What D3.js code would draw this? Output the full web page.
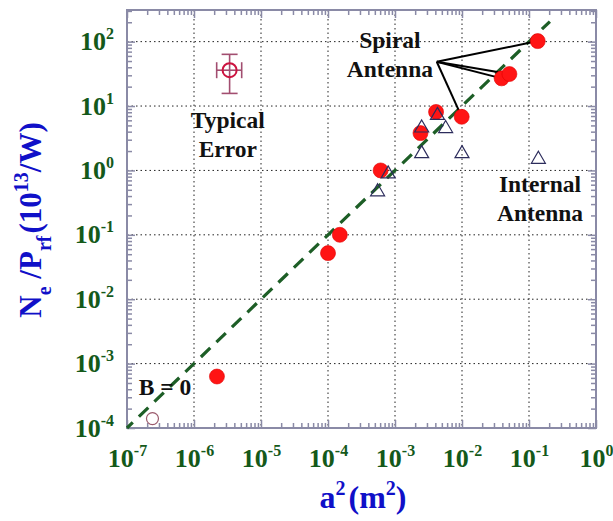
<!DOCTYPE html>
<html>
<head>
<meta charset="utf-8">
<script src="https://cdn.jsdelivr.net/npm/d3@7"></script>
<style>
  body { margin: 0; background: #fff; }
  text { font-family: "Liberation Serif", "Times New Roman", serif; font-weight: bold; }
</style>
</head>
<body>
<div id="chart"></div>
<script>
// DATA
const spiralA2 = [2.2e-6, 1.0e-4, 1.5e-4, 6.1e-4, 2.4e-3, 4.1e-3, 9.9e-3, 0.039, 0.051, 0.135];
const spiralNP = [6.3e-4, 0.052, 0.10, 1.0, 3.8, 8.1, 6.8, 26.9, 31.4, 102];

const internalA2 = [5.5e-4, 7.9e-4, 2.5e-3, 2.5e-3, 4.3e-3, 5.7e-3, 1.0e-2, 0.138];
const internalNP = [0.50, 0.95, 1.96, 4.9, 7.7, 4.8, 1.96, 1.6];

const noFieldA2 = [2.4e-7];
const noFieldNP = [1.4e-4];

// fit line N/P = 1e3 * a^2
const fitA2 = [1e-7, 0.205];
const fitNP = [1e-4, 205];

// typical error marker
const errCenter = [3.4e-6, 36];
const errA2 = [2.18e-6, 5.15e-6];
const errNP = [15.7, 63.5];

// annotation arrows: origin and which spiral points they point to
const spiralOrigin = [4.2e-3, 48.7];
const spiralTargets = [9, 8, 7, 6];

const xDomain = [1e-7, 1];
const yDomain = [1e-4, 310];

// LAYOUT
const W = 613, H = 521;
const margin = { top: 10, right: 17, bottom: 93, left: 127 };
const xMax = W - margin.left - margin.right;
const yMax = H - margin.top - margin.bottom;

const green = "#14591a";
const blue = "#1010c8";
const frameCol = "#8a8aa6";

const svg = d3.select("#chart").append("svg")
  .attr("width", W).attr("height", H);
const g = svg.append("g")
  .attr("transform", "translate(" + margin.left + "," + margin.top + ")");

const x = d3.scaleLog().domain(xDomain).range([0, xMax]);
const y = d3.scaleLog().domain(yDomain).range([yMax, 0]);

const isMajor = (v) => Math.abs(Math.log10(v) - Math.round(Math.log10(v))) < 1e-9;
const xAll = x.ticks();
const yAll = y.ticks();
const xMaj = xAll.filter(isMajor);
const yMaj = yAll.filter(isMajor);
const xMin = xAll.filter((v) => !isMajor(v));
const yMin = yAll.filter((v) => !isMajor(v));

// GRID
const grid = g.append("g").attr("class", "grid")
  .attr("stroke", "#222").attr("stroke-width", 1).attr("stroke-dasharray", "1.5,3");
grid.selectAll("line.v").data(xMaj.filter((v) => v > xDomain[0] && v < xDomain[1]))
  .join("line").attr("class", "v")
  .attr("x1", (d) => x(d)).attr("x2", (d) => x(d))
  .attr("y1", 0).attr("y2", yMax);
grid.selectAll("line.h").data(yMaj.filter((v) => v > yDomain[0]))
  .join("line").attr("class", "h")
  .attr("y1", (d) => y(d)).attr("y2", (d) => y(d))
  .attr("x1", 0).attr("x2", xMax);

// AXES (ticks pointing inward on all four sides)
function styleAxis(sel) {
  sel.select(".domain").remove();
  sel.selectAll(".tick line").attr("stroke", frameCol).attr("stroke-width", 1.5);
}
function addAxis(axis, tx, ty) {
  return g.append("g").attr("transform", "translate(" + tx + "," + ty + ")")
    .call(axis).call(styleAxis);
}
addAxis(d3.axisBottom(x).tickValues(xMin).tickSize(-5).tickFormat(""), 0, yMax);
addAxis(d3.axisTop(x).tickValues(xMin).tickSize(-5).tickFormat(""), 0, 0);
addAxis(d3.axisLeft(y).tickValues(yMin).tickSize(-5).tickFormat(""), 0, 0);
addAxis(d3.axisRight(y).tickValues(yMin).tickSize(-5).tickFormat(""), xMax, 0);
addAxis(d3.axisTop(x).tickValues(xMaj).tickSize(-8).tickFormat(""), 0, 0);
addAxis(d3.axisRight(y).tickValues(yMaj).tickSize(-8).tickFormat(""), xMax, 0);

function powerLabel(text) {
  text.each(function (d) {
    const t = d3.select(this);
    const e = Math.round(Math.log10(d));
    t.text(null).attr("fill", green).style("font-size", "26px");
    t.append("tspan").text("10");
    t.append("tspan").attr("dy", -11).style("font-size", "16px").text(String(e));
  });
}

const xAxisG = addAxis(d3.axisBottom(x).tickValues(xMaj).tickSize(-8), 0, yMax);
xAxisG.selectAll(".tick text")
  .attr("y", 39).attr("dy", 0).attr("text-anchor", "middle")
  .call(powerLabel);

const yAxisG = addAxis(d3.axisLeft(y).tickValues(yMaj).tickSize(-8), 0, 0);
yAxisG.selectAll(".tick text")
  .attr("x", -13).attr("dy", 8).attr("text-anchor", "end")
  .call(powerLabel);

// frame
g.append("rect").attr("width", xMax).attr("height", yMax)
  .attr("fill", "none").attr("stroke", frameCol).attr("stroke-width", 2);

// FIT LINE
const line = d3.line().x((d) => x(d[0])).y((d) => y(d[1]));
g.append("path")
  .datum(d3.zip(fitA2, fitNP))
  .attr("d", line)
  .attr("fill", "none").attr("stroke", "#1d5e26")
  .attr("stroke-width", 3.2).attr("stroke-dasharray", "13,8.5")
  .attr("stroke-dashoffset", 5);

// ANNOTATION LINES (spiral antenna)
const ox = x(spiralOrigin[0]), oy = y(spiralOrigin[1]);
function towards(i, k) {
  const tx = x(spiralA2[i]), ty = y(spiralNP[i]);
  const L = Math.hypot(tx - ox, ty - oy);
  return [tx - (tx - ox) * k / L, ty - (ty - oy) * k / L];
}
g.append("g").selectAll("line").data(spiralTargets).join("line")
  .attr("x1", ox).attr("y1", oy)
  .attr("x2", (i) => towards(i, 6)[0])
  .attr("y2", (i) => towards(i, 6)[1])
  .attr("stroke", "#000").attr("stroke-width", 2);

// SPIRAL ANTENNA POINTS
g.append("g").selectAll("circle").data(d3.zip(spiralA2, spiralNP)).join("circle")
  .attr("cx", (d) => x(d[0])).attr("cy", (d) => y(d[1]))
  .attr("r", 7.5)
  .attr("fill", "#ff1414").attr("stroke", "#e00000").attr("stroke-width", 0.6);

// INTERNAL ANTENNA POINTS
g.append("g").selectAll("path").data(d3.zip(internalA2, internalNP)).join("path")
  .attr("transform", (d) => "translate(" + x(d[0]) + "," + y(d[1]) + ")")
  .attr("d", "M0,-6L7,6L-7,6Z")
  .attr("fill", "none").attr("stroke", "#2c2c5c").attr("stroke-width", 1.2);

// B = 0 POINT
g.append("g").selectAll("circle").data(d3.zip(noFieldA2, noFieldNP)).join("circle")
  .attr("cx", (d) => x(d[0])).attr("cy", (d) => y(d[1]))
  .attr("r", 6).attr("fill", "#fff")
  .attr("stroke", "#9a5a6c").attr("stroke-width", 1.2);

// TYPICAL ERROR MARKER
const eg = g.append("g").attr("stroke", "#a24e70").attr("stroke-width", 1.6);
const ecx = x(errCenter[0]), ecy = y(errCenter[1]);
eg.append("line").attr("x1", ecx).attr("x2", ecx).attr("y1", y(errNP[0])).attr("y2", y(errNP[1]));
eg.append("line").attr("x1", x(errA2[0])).attr("x2", x(errA2[1])).attr("y1", ecy).attr("y2", ecy);
errNP.forEach((v) => eg.append("line").attr("x1", ecx - 8).attr("x2", ecx + 8).attr("y1", y(v)).attr("y2", y(v)));
errA2.forEach((v) => eg.append("line").attr("x1", x(v)).attr("x2", x(v)).attr("y1", ecy - 8).attr("y2", ecy + 8));
g.append("circle").attr("cx", ecx).attr("cy", ecy).attr("r", 7)
  .attr("fill", "none").attr("stroke", "#cc1440").attr("stroke-width", 2);

// TEXT ANNOTATIONS
function note(lines, pos, size) {
  const t = g.append("text")
    .attr("x", x(pos[0])).attr("y", y(pos[1]))
    .attr("text-anchor", "middle").attr("fill", "#111")
    .style("font-size", size + "px");
  lines.forEach((s, i) => t.append("tspan")
    .attr("x", x(pos[0])).attr("dy", i === 0 ? 0 : 29).text(s));
}
note(["Typical", "Error"], [3.2e-6, 4.55], 23.5);
note(["Spiral", "Antenna"], [8.4e-4, 79], 23.5);
note(["Internal", "Antenna"], [0.146, 0.46], 23.5);
note(["B = 0"], [3.7e-7, 3.25e-4], 23.5);

// AXIS TITLES
const xt = svg.append("text")
  .attr("x", 363).attr("y", 508).attr("text-anchor", "middle")
  .attr("fill", blue).style("font-size", "32px");
xt.append("tspan").text("a");
xt.append("tspan").attr("dy", -13).style("font-size", "20px").text("2");
xt.append("tspan").attr("dy", 13).attr("dx", 3).text("(m");
xt.append("tspan").attr("dy", -13).style("font-size", "20px").text("2");
xt.append("tspan").attr("dy", 13).text(")");

const yt = svg.append("text")
  .attr("transform", "translate(41,220) rotate(-90)")
  .attr("text-anchor", "middle")
  .attr("fill", blue).style("font-size", "31px");
yt.append("tspan").text("N");
yt.append("tspan").attr("dy", 10).style("font-size", "20px").text("e");
yt.append("tspan").attr("dy", -10).text(" /P");
yt.append("tspan").attr("dy", 10).style("font-size", "20px").text("rf");
yt.append("tspan").attr("dy", -10).attr("dx", 2).text("(10");
yt.append("tspan").attr("dy", -13).style("font-size", "20px").text("13");
yt.append("tspan").attr("dy", 13).text("/W)");
</script>
</body>
</html>
